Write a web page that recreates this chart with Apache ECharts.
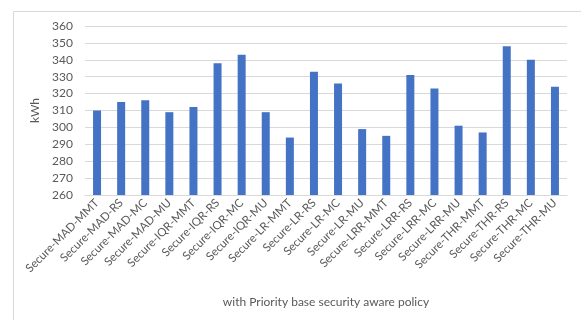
<!DOCTYPE html>
<html><head><meta charset="utf-8">
<script src="https://cdn.jsdelivr.net/npm/echarts@6/dist/echarts.min.js"></script>
<style>html,body{margin:0;padding:0;background:#fff;}#c{width:581px;height:320px;}</style>
</head><body><div id="c"></div>
<script>
const categories = ["Secure-MAD-MMT","Secure-MAD-RS","Secure-MAD-MC","Secure-MAD-MU","Secure-IQR-MMT","Secure-IQR-RS","Secure-IQR-MC","Secure-IQR-MU","Secure-LR-MMT","Secure-LR-RS","Secure-LR-MC","Secure-LR-MU","Secure-LRR-MMT","Secure-LRR-RS","Secure-LRR-MC","Secure-LRR-MU","Secure-THR-MMT","Secure-THR-RS","Secure-THR-MC","Secure-THR-MU"];
const energy = [310,315,316,309,312,338,343,309,294,333,326,299,295,331,323,301,297,348,340,324];
const yTicks = {min:260, max:360, interval:10};
const xTitle = "with Priority base security aware policy";
const yTitle = "kWh";

const chart = echarts.init(document.getElementById('c'));
const font = 'Lato, "Open Sans", sans-serif';
chart.setOption({
  animation:false,
  backgroundColor:'#ffffff',
  graphic:[{type:'rect',shape:{x:13.5,y:11.5,width:600,height:400},style:{fill:'none',stroke:'#d9d9d9',lineWidth:1},silent:true}],
  grid:{left:85,right:14,top:26,bottom:125},
  xAxis:{type:'category',data:categories,
    name:xTitle,nameLocation:'middle',nameGap:101,
    nameTextStyle:{color:'#595959',fontSize:12,fontFamily:font},
    axisLine:{show:true,lineStyle:{color:'#d9d9d9'}},axisTick:{show:false},
    axisLabel:{rotate:45,interval:0,color:'#595959',fontSize:11.5,fontFamily:font,margin:6}},
  yAxis:{type:'value',min:yTicks.min,max:yTicks.max,interval:yTicks.interval,
    name:yTitle,nameLocation:'middle',nameGap:39,
    nameTextStyle:{color:'#595959',fontSize:12,fontFamily:font},
    axisLine:{show:false},axisTick:{show:false},
    axisLabel:{color:'#595959',fontSize:12,fontFamily:font,margin:12},
    splitLine:{lineStyle:{color:'#d9d9d9',width:1}}},
  series:[{type:'bar',data:energy,barWidth:8,itemStyle:{color:'#4472c4'}}]
});
</script></body></html>
